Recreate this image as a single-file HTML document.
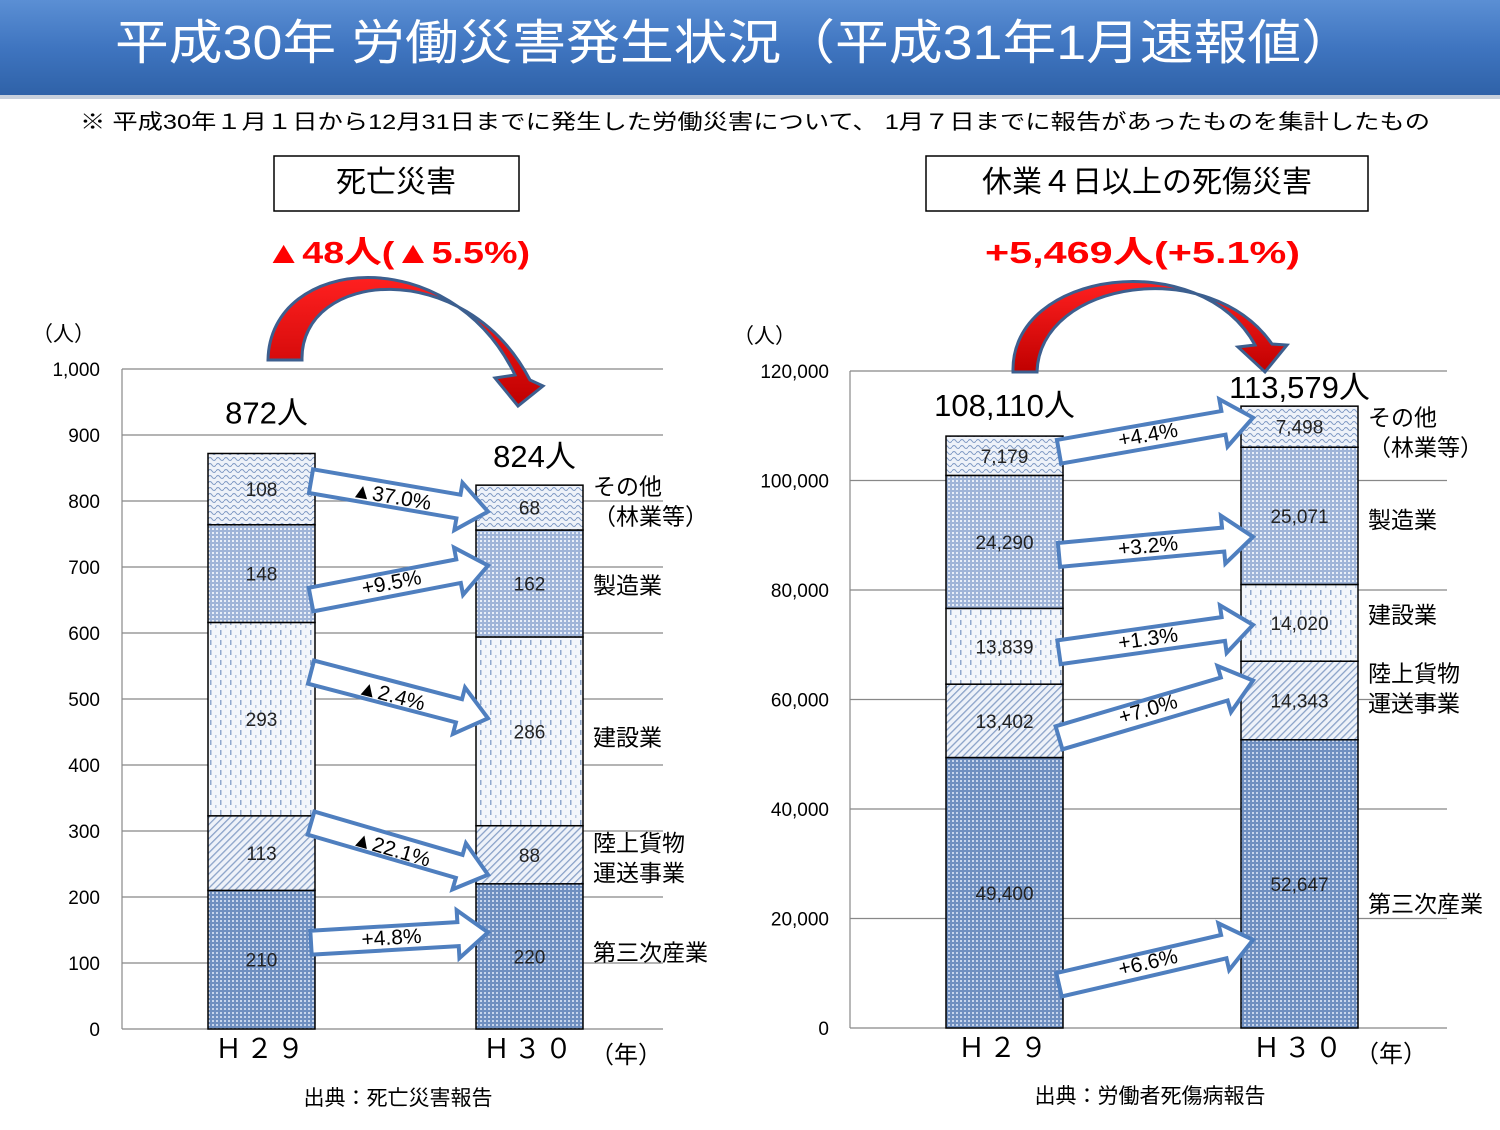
<!DOCTYPE html>
<html><head><meta charset="utf-8">
<style>
html,body{margin:0;padding:0;background:#fff;}
body{width:1500px;height:1125px;overflow:hidden;font-family:"Liberation Sans","Noto Sans CJK JP",sans-serif;}
svg text{font-family:"Liberation Sans","Noto Sans CJK JP",sans-serif;}
</style></head>
<body>
<svg id="c" width="1500" height="1125" xmlns="http://www.w3.org/2000/svg">
<defs>
<linearGradient id="tg" x1="0" y1="0" x2="0" y2="1">
<stop offset="0" stop-color="#5b8fd4"/><stop offset="0.5" stop-color="#3f75c0"/><stop offset="1" stop-color="#2f62a8"/></linearGradient>
<linearGradient id="rg" x1="0" y1="0" x2="0" y2="1"><stop offset="0" stop-color="#ff2020"/><stop offset="1" stop-color="#c00000"/></linearGradient>
<pattern id="p0" width="4" height="4" patternUnits="userSpaceOnUse"><rect width="4" height="4" fill="#6f8fc0"/><rect x="0" y="0" width="2" height="2" fill="#c7d5ec"/></pattern>
<pattern id="p1" width="5" height="5" patternUnits="userSpaceOnUse" patternTransform="rotate(45)"><rect width="5" height="5" fill="#eef2f9"/><rect width="1.3" height="5" fill="#8aa2c8"/></pattern>
<pattern id="p2" width="10" height="10" patternUnits="userSpaceOnUse"><rect width="10" height="10" fill="#f3f6fb"/><rect x="0" y="0" width="1.5" height="5" fill="#8fa7cc"/><rect x="5" y="5" width="1.5" height="3" fill="#b8c8e2"/></pattern>
<pattern id="p3" width="4" height="4" patternUnits="userSpaceOnUse"><rect width="4" height="4" fill="#9fb4d8"/><rect x="0" y="0" width="2" height="2" fill="#e8eef8"/></pattern>
<pattern id="p4" width="8" height="6" patternUnits="userSpaceOnUse"><rect width="8" height="6" fill="#eef2f9"/><path d="M0 3 Q2 0 4 3 T8 3" fill="none" stroke="#7f99c4" stroke-width="1"/></pattern>
</defs>
<rect x="0" y="0" width="1500" height="95" fill="url(#tg)"/>
<rect x="0" y="95" width="1500" height="4" fill="#c8d0dc"/>
<text x="115" y="59" font-size="48" fill="#fff" textLength="1240" lengthAdjust="spacingAndGlyphs">平成30年 労働災害発生状況（平成31年1月速報値）</text>
<text x="80" y="129" font-size="21" fill="#000" textLength="1350" lengthAdjust="spacingAndGlyphs">※ 平成30年１月１日から12月31日までに発生した労働災害について、 1月７日までに報告があったものを集計したもの</text>
<rect x="274" y="156" width="245" height="55" fill="#fff" stroke="#000" stroke-width="1.5"/>
<text x="396" y="192" font-size="30" text-anchor="middle">死亡災害</text>
<rect x="926" y="156" width="442" height="55" fill="#fff" stroke="#000" stroke-width="1.5"/>
<text x="1147" y="192" font-size="30" text-anchor="middle">休業４日以上の死傷災害</text>
<text x="265" y="263" font-size="31" font-weight="bold" fill="#ff0000" textLength="265" lengthAdjust="spacingAndGlyphs">▲48人(▲5.5%)</text>
<text x="985" y="263" font-size="31" font-weight="bold" fill="#ff0000" textLength="315" lengthAdjust="spacingAndGlyphs">+5,469人(+5.1%)</text>
<g id="L"></g><g id="R"></g>
<path d="M268 360 C270 255 450 240 515 375 L495 378 L518 406 L543 386 L530 380 C465 255 300 270 302 360 Z" fill="url(#rg)" stroke="#3c5f8f" stroke-width="3"/>
<path d="M1013 372 C1010 270 1200 245 1255 345 L1238 347 L1265 372 L1287 345 L1272 344 C1210 255 1040 280 1037 372 Z" fill="url(#rg)" stroke="#3c5f8f" stroke-width="3"/>
<text x="398" y="1105" font-size="21" text-anchor="middle">出典：死亡災害報告</text>
<text x="1150" y="1103" font-size="21" text-anchor="middle">出典：労働者死傷病報告</text>
</svg>
<script>
const categories=["第三次産業","陸上貨物\n運送事業","建設業","製造業","その他\n（林業等）"];
const years=["Ｈ２９","Ｈ３０"];
const leftH29=[210,113,293,148,108];
const leftH30=[220,88,286,162,68];
const leftTotals=["872人","824人"];
const leftTicks=[0,100,200,300,400,500,600,700,800,900,1000];
const leftChanges=["+4.8%","▲22.1%","▲2.4%","+9.5%","▲37.0%"];
const rightH29=[49400,13402,13839,24290,7179];
const rightH30=[52647,14343,14020,25071,7498];
const rightTotals=["108,110人","113,579人"];
const rightTicks=[0,20000,40000,60000,80000,100000,120000];
const rightChanges=["+6.6%","+7.0%","+1.3%","+3.2%","+4.4%"];
const NS="http://www.w3.org/2000/svg";
function mk(p,tag,a,txt){const e=document.createElementNS(NS,tag);for(const k in a)e.setAttribute(k,a[k]);if(txt!=null)e.textContent=txt;p.appendChild(e);return e;}
function blockArrow(g,x1,y1,x2,y2){
 const dx=x2-x1,dy=y2-y1,L=Math.hypot(dx,dy),ux=dx/L,uy=dy/L,nx=-uy,ny=ux;
 const sw=12,hw=24,hl=30;
 const pts=[[0,-sw],[L-hl,-sw],[L-hl,-hw],[L,0],[L-hl,hw],[L-hl,sw],[0,sw]].map(([a,b])=>(x1+ux*a+nx*b)+","+(y1+uy*a+ny*b));
 return mk(g,"polygon",{points:pts.join(" "),fill:"#fff",stroke:"#4f7fbf","stroke-width":4,"stroke-linejoin":"miter"});
}
function chart(gid,cfg){
 const g=document.getElementById(gid);
 const y=v=>cfg.y0-(v/cfg.max)*(cfg.y0-cfg.y1);
 cfg.ticks.forEach(t=>{
  const l=mk(g,"line",{x1:cfg.gx0,x2:cfg.gx1,y1:y(t),y2:y(t),stroke:"#888","stroke-width":1.2});
  
  
  const tx=mk(g,"text",{x:cfg.tickX,y:y(t)+7,"font-size":19,"text-anchor":"end"},t.toLocaleString("en-US"));
  
  
 });
 mk(g,"line",{x1:cfg.gx0,x2:cfg.gx0,y1:cfg.y1,y2:cfg.y0,stroke:"#888","stroke-width":1.2});
 const u=mk(g,"text",{x:cfg.unitX,y:cfg.y1-28,"font-size":21},"（人）");
 
 
 const series=[cfg.a,cfg.b];
 const segs=[[],[]];
 series.forEach((vals,si)=>{
  let cum=0;const bx=cfg.bx[si];
  vals.forEach((v,i)=>{
   const top=y(cum+v),bot=y(cum);cum+=v;
   const r=mk(g,"rect",{x:bx,y:top,width:cfg.bw,height:bot-top,fill:"url(#p"+i+")",stroke:"#000","stroke-width":1.5});
   
   
   segs[si].push([top,bot]);
   const tl=mk(g,"text",{x:bx+cfg.bw/2,y:(top+bot)/2+7,"font-size":19,"text-anchor":"middle",fill:"#222"},v.toLocaleString("en-US"));
   
   
  });
  const tt=mk(g,"text",{x:bx+cfg.bw/2+cfg.totDx[si],y:y(cum)-cfg.totDy[si],"font-size":31,"text-anchor":"middle"},cfg.totals[si]);
  
  
  const xl=mk(g,"text",{x:bx+cfg.bw/2,y:cfg.y0+29,"font-size":27,"text-anchor":"middle","letter-spacing":"4"},years[si]);
  
  
 });
 const yl=mk(g,"text",{x:cfg.nenX,y:cfg.y0+34,"font-size":24},"（年）");
 
 
 categories.forEach((c,i)=>{
  const [t,b]=segs[1][i];const lines=c.split("\n");const cy=(t+b)/2+cfg.catDy[i];
  lines.forEach((ln,k)=>{
   const e=mk(g,"text",{x:cfg.catX,y:cy+k*30-(lines.length-1)*15+8,"font-size":23},ln);
   
   
  });
 });
 cfg.changes.forEach((c,i)=>{
  const [t0,b0]=segs[0][i],[t1,b1]=segs[1][i];
  const ya=(t0+b0)/2+cfg.arrDy0[i],yb=(t1+b1)/2+cfg.arrDy1[i];
  const xa=cfg.bx[0]+cfg.bw-4,xb=cfg.bx[1]+12;
  const a=blockArrow(g,xa,ya,xb,yb);
  
  
  const ang=Math.atan2(yb-ya,xb-xa)*180/Math.PI;
  const mx=(xa+xb)/2-8,my=(ya+yb)/2;
  const tx=mk(g,"text",{x:mx,y:my+7,"font-size":21,"text-anchor":"middle",transform:`rotate(${ang} ${mx} ${my})`},c);
  
  
 });
}
chart("L",{a:leftH29,b:leftH30,max:1000,ticks:leftTicks,y0:1029,y1:369,gx0:122,gx1:663,tickX:100,unitX:32,
 bx:[208,476],bw:107,totals:leftTotals,totDx:[5,5],totDy:[30,18],nenX:590,catX:593,catDy:[-4,3,6,2,-6],
 changes:leftChanges,arrDy0:[-17,-30,-47,26,-8],arrDy1:[-24,20,-13,-18,4]});
chart("R",{a:rightH29,b:rightH30,max:120000,ticks:rightTicks,y0:1028,y1:371,gx0:850,gx1:1447,tickX:829,unitX:733,
 bx:[946,1241],bw:117,totals:rightTotals,totDx:[0,0],totDy:[20,8],nenX:1355,catX:1368,catDy:[20,-12,-8,4,6],
 changes:rightChanges,arrDy0:[92,17,6,13,-4],arrDy1:[56,-20,2,21,-9]});
</script>
</body></html>
